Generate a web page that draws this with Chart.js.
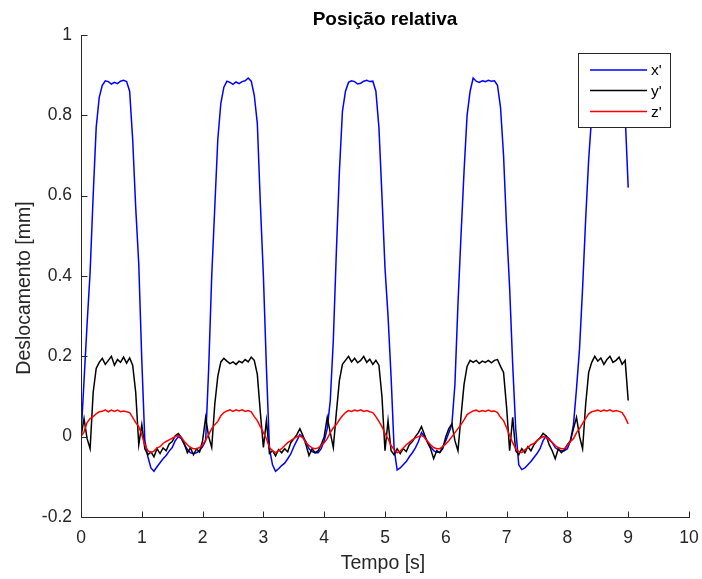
<!DOCTYPE html>
<html>
<head>
<meta charset="utf-8">
<script src="https://cdn.jsdelivr.net/npm/chart.js@4/dist/chart.umd.min.js"></script>
<style>
  html, body { margin: 0; padding: 0; background: #fff; }
  #wrap { width: 702px; height: 579px; }
</style>
</head>
<body>
<div id="wrap"><canvas id="c" width="702" height="579"></canvas></div>
<script>
// Sampling interval of the recorded displacement [s]
const SAMPLE_STEP = 0.05;

// x' displacement [mm], one value per sample, t = 0 ... 9 s
const xPrime = [
  0.00, 0.14, 0.28, 0.41, 0.60, 0.77, 0.845, 0.875, 0.886, 0.884, 0.878, 0.882, 0.879, 0.885, 0.887, 0.884, 0.86, 0.74, 0.57, 0.43,
  0.19, -0.01, -0.05, -0.078, -0.086, -0.075, -0.065, -0.055, -0.047, -0.036, -0.027, -0.01, 0.0, -0.005, -0.02, -0.032, -0.04, -0.042, -0.04, -0.035,
  -0.025, -0.01, 0.17, 0.40, 0.57, 0.74, 0.83, 0.87, 0.885, 0.882, 0.877, 0.883, 0.879, 0.884, 0.886, 0.893, 0.885, 0.85, 0.78, 0.58,
  0.40, 0.17, -0.03, -0.07, -0.086, -0.08, -0.072, -0.066, -0.055, -0.043, -0.025, -0.01, 0.005, 0.0, -0.012, -0.03, -0.037, -0.04, -0.04, -0.03,
  -0.01, 0.02, 0.09, 0.24, 0.46, 0.66, 0.81, 0.86, 0.882, 0.886, 0.884, 0.878, 0.88, 0.885, 0.887, 0.884, 0.885, 0.86, 0.77, 0.60,
  0.42, 0.30, 0.15, -0.03, -0.083, -0.078, -0.07, -0.062, -0.05, -0.04, -0.028, -0.012, 0.01, 0.0, -0.012, -0.025, -0.035, -0.039, -0.039, -0.025,
  -0.01, 0.01, 0.03, 0.13, 0.33, 0.50, 0.66, 0.80, 0.86, 0.893, 0.885, 0.882, 0.886, 0.884, 0.887, 0.885, 0.886, 0.875, 0.82, 0.70,
  0.52, 0.37, 0.18, 0.02, -0.07, -0.082, -0.078, -0.07, -0.062, -0.052, -0.042, -0.03, -0.01, 0.002, -0.005, -0.015, -0.027, -0.033, -0.035, -0.035,
  -0.03, -0.01, 0.03, 0.12, 0.22, 0.37, 0.54, 0.69, 0.80, 0.86, 0.882, 0.885, 0.88, 0.884, 0.886, 0.883, 0.885, 0.884, 0.87, 0.80,
  0.62
];

// y' displacement [mm]
const yPrime = [
  0.0, 0.045, -0.005, -0.03, 0.11, 0.17, 0.185, 0.195, 0.18, 0.19, 0.2, 0.178, 0.192, 0.185, 0.198, 0.183, 0.196, 0.178, 0.11, -0.02,
  0.03, -0.03, -0.045, -0.038, -0.05, -0.03, -0.042, -0.028, -0.035, -0.018, -0.012, 0.002, 0.008, -0.002, -0.018, -0.04, -0.028, -0.045, -0.03, -0.038,
  -0.01, 0.048, 0.0, -0.027, 0.08, 0.15, 0.186, 0.195, 0.188, 0.182, 0.186, 0.18, 0.188, 0.184, 0.192, 0.186, 0.198, 0.19, 0.155, 0.06,
  -0.027, 0.04, -0.042, -0.035, -0.048, -0.032, -0.04, -0.03, -0.038, -0.015, -0.005, 0.005, 0.02, 0.003, -0.02, -0.047, -0.03, -0.04, -0.035, -0.02,
  0.0, 0.048, 0.01, -0.027, 0.06, 0.14, 0.18, 0.19, 0.2, 0.186, 0.195, 0.184, 0.19, 0.2, 0.185, 0.193, 0.18, 0.19, 0.178, 0.1,
  -0.035, 0.04, -0.035, -0.045, -0.03, -0.042, -0.03, -0.037, -0.02, -0.012, 0.0, 0.01, 0.025, 0.005, -0.015, -0.03, -0.055, -0.035, -0.04, -0.03,
  0.0, 0.02, 0.032, -0.01, -0.035, 0.05, 0.13, 0.175, 0.19, 0.185, 0.19, 0.182, 0.188, 0.185, 0.19, 0.184, 0.19, 0.192, 0.175, 0.16,
  0.073, -0.035, 0.048, -0.035, -0.045, -0.03, -0.04, -0.025, -0.035, -0.02, -0.01, -0.003, 0.008, 0.002, -0.02, -0.035, -0.055, -0.03, -0.04, -0.033,
  -0.02, -0.01, 0.02, 0.048, 0.0, -0.03, 0.08, 0.16, 0.185, 0.2, 0.188, 0.196, 0.18, 0.192, 0.2, 0.185, 0.19, 0.198, 0.18, 0.19,
  0.09
];

// z' displacement [mm]
const zPrime = [
  0.0, 0.012, 0.035, 0.045, 0.05, 0.057, 0.062, 0.063, 0.067, 0.062, 0.066, 0.063, 0.066, 0.062, 0.064, 0.062, 0.06, 0.048, 0.035, 0.025,
  0.005, -0.02, -0.035, -0.04, -0.036, -0.028, -0.025, -0.017, -0.012, -0.008, -0.004, 0.0, 0.003, -0.002, -0.012, -0.02, -0.027, -0.03, -0.03, -0.027,
  -0.02, -0.008, 0.005, 0.02, 0.03, 0.038, 0.052, 0.06, 0.064, 0.067, 0.063, 0.067, 0.064, 0.067, 0.063, 0.065, 0.062, 0.05, 0.04, 0.025,
  0.01, -0.005, -0.027, -0.035, -0.04, -0.035, -0.03, -0.022, -0.015, -0.01, -0.005, 0.0, 0.002, -0.003, -0.015, -0.022, -0.028, -0.03, -0.028, -0.022,
  -0.015, -0.005, 0.01, 0.022, 0.03, 0.042, 0.052, 0.06, 0.065, 0.063, 0.066, 0.064, 0.067, 0.063, 0.065, 0.062, 0.06, 0.05, 0.038, 0.025,
  0.008, -0.005, -0.022, -0.032, -0.04, -0.036, -0.028, -0.02, -0.014, -0.008, -0.003, 0.0, 0.003, -0.002, -0.012, -0.02, -0.027, -0.03, -0.03, -0.025,
  -0.018, -0.01, 0.0, 0.01, 0.02, 0.03, 0.042, 0.055, 0.06, 0.064, 0.066, 0.062, 0.065, 0.063, 0.066, 0.063, 0.064, 0.06, 0.048, 0.04,
  0.022, 0.003, -0.015, -0.03, -0.037, -0.04, -0.033, -0.027, -0.02, -0.017, -0.01, -0.004, 0.0, -0.002, -0.008, -0.014, -0.022, -0.027, -0.03, -0.03,
  -0.022, -0.012, -0.005, 0.01, 0.02, 0.033, 0.045, 0.057, 0.062, 0.064, 0.066, 0.063, 0.066, 0.064, 0.067, 0.063, 0.065, 0.063, 0.06, 0.048,
  0.032
];

// Sample times [s]
const time = xPrime.map((_, i) => +(i * SAMPLE_STEP).toFixed(2));

// Axis ticks
const xTicks = [0, 1, 2, 3, 4, 5, 6, 7, 8, 9, 10];
const yTicks = [-0.2, 0, 0.2, 0.4, 0.6, 0.8, 1];

// Labels
const seriesNames = ["x'", "y'", "z'"];
const chartTitle = "Posição relativa";
const xAxisTitle = "Tempo [s]";
const yAxisTitle = "Deslocamento [mm]";

const FONT = "'Liberation Sans', Arial, Helvetica, sans-serif";
const AXIS_COLOR = '#262626';
const seriesColors = ['#0000ff', '#000000', '#ff0000'];

const toPoints = vals => vals.map((v, i) => ({ x: time[i], y: v }));

// MATLAB-style decorations: axes lines, inward ticks, title, labels, legend box
const figureDecor = {
  id: 'figureDecor',
  afterDatasetsDraw(chart) {
    const { ctx, chartArea: a, scales: { x, y } } = chart;
    ctx.save();
    ctx.strokeStyle = AXIS_COLOR;
    ctx.lineWidth = 1;
    const L = Math.round(a.left) + 0.5;
    const B = Math.round(a.bottom) + 0.5;
    ctx.beginPath();
    ctx.moveTo(L, Math.round(a.top));
    ctx.lineTo(L, B);
    ctx.lineTo(Math.round(a.right) + 1, B);
    const tl = 6;
    xTicks.forEach(v => {
      const px = Math.round(x.getPixelForValue(v)) + 0.5;
      ctx.moveTo(px, B);
      ctx.lineTo(px, B - tl);
    });
    yTicks.forEach(v => {
      const py = Math.round(y.getPixelForValue(v)) + 0.5;
      ctx.moveTo(L, py);
      ctx.lineTo(L + tl, py);
    });
    ctx.stroke();

    // title
    const cx = (a.left + a.right) / 2;
    ctx.fillStyle = '#000';
    ctx.textAlign = 'center';
    ctx.textBaseline = 'alphabetic';
    ctx.font = `bold 19px ${FONT}`;
    ctx.fillText(chartTitle, cx, 25);

    // axis titles
    ctx.fillStyle = AXIS_COLOR;
    ctx.font = `19.5px ${FONT}`;
    ctx.fillText(xAxisTitle, cx - 2, 569);
    ctx.save();
    ctx.translate(30, 288);
    ctx.rotate(-Math.PI / 2);
    ctx.fillText(yAxisTitle, 0, 0);
    ctx.restore();

    // legend
    const bx = 578.5, by = 53.5, bw = 92, bh = 74;
    ctx.fillStyle = '#fff';
    ctx.fillRect(bx, by, bw, bh);
    ctx.strokeStyle = AXIS_COLOR;
    ctx.lineWidth = 1;
    ctx.strokeRect(bx, by, bw, bh);
    const rows = [70, 90.5, 111.5];
    ctx.font = `15.5px ${FONT}`;
    ctx.textAlign = 'left';
    ctx.textBaseline = 'middle';
    seriesNames.forEach((name, i) => {
      ctx.strokeStyle = seriesColors[i];
      ctx.lineWidth = 1.5;
      ctx.beginPath();
      ctx.moveTo(590, rows[i]);
      ctx.lineTo(647, rows[i]);
      ctx.stroke();
      ctx.fillStyle = '#000';
      ctx.fillText(name, 651, rows[i] + 1);
    });
    ctx.restore();
  }
};

new Chart(document.getElementById('c'), {
  type: 'line',
  data: {
    datasets: [
      { label: seriesNames[0], data: toPoints(xPrime), borderColor: seriesColors[0], order: 3 },
      { label: seriesNames[1], data: toPoints(yPrime), borderColor: seriesColors[1], order: 2 },
      { label: seriesNames[2], data: toPoints(zPrime), borderColor: seriesColors[2], order: 1 }
    ]
  },
  options: {
    responsive: false,
    animation: false,
    devicePixelRatio: 1,
    layout: { padding: { top: 35, right: 13, left: 0, bottom: 0 } },
    elements: {
      line: { borderWidth: 1.5, tension: 0, fill: false },
      point: { radius: 0, hoverRadius: 0 }
    },
    plugins: {
      legend: { display: false },
      title: { display: false },
      tooltip: { enabled: false }
    },
    scales: {
      x: {
        type: 'linear',
        min: 0, max: 10,
        afterBuildTicks: s => { s.ticks = xTicks.map(v => ({ value: v })); },
        afterFit: s => { s.height = 62; s.paddingLeft = 0; s.paddingRight = 0; },
        grid: { display: false, drawTicks: false },
        border: { display: false },
        ticks: {
          padding: 11,
          color: AXIS_COLOR,
          font: { family: FONT, size: 17.5 },
          maxRotation: 0,
          autoSkip: false,
          callback: v => String(v)
        }
      },
      y: {
        type: 'linear',
        min: -0.2, max: 1,
        afterBuildTicks: s => { s.ticks = yTicks.map(v => ({ value: v })); },
        afterFit: s => { s.width = 81; s.paddingTop = 0; s.paddingBottom = 0; },
        grid: { display: false, drawTicks: false },
        border: { display: false },
        ticks: {
          padding: 9,
          color: AXIS_COLOR,
          font: { family: FONT, size: 17.5 },
          autoSkip: false,
          callback: v => String(v)
        }
      }
    }
  },
  plugins: [figureDecor]
});
</script>
</body>
</html>
